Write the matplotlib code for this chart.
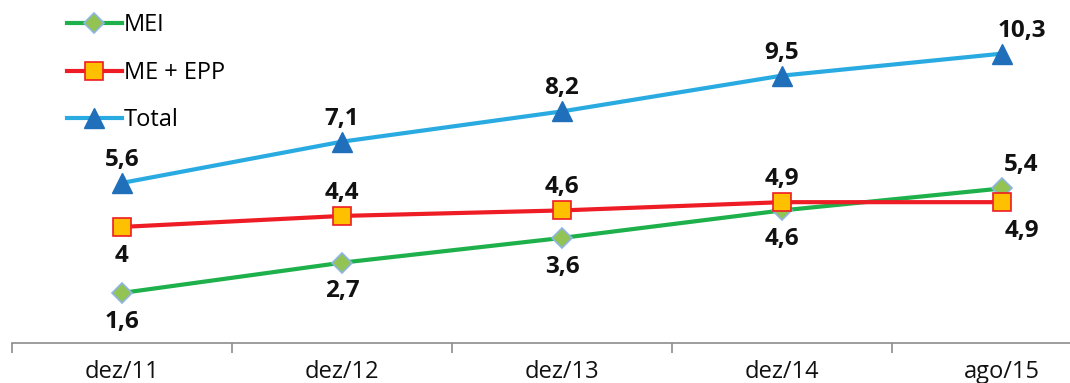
import numpy as np
import matplotlib.pyplot as plt

categories = ['dez/11', 'dez/12', 'dez/13', 'dez/14', 'ago/15']
mei = [1.6, 2.7, 3.6, 4.6, 5.4]
me_epp = [4.0, 4.4, 4.6, 4.9, 4.9]
total = [5.6, 7.1, 8.2, 9.5, 10.3]

# label placement: 1 = above, -1 = below
mei_pos = [-1, -1, -1, -1, 1]
me_epp_pos = [-1, 1, 1, 1, -1]
total_pos = [1, 1, 1, 1, 1]

plt.rcParams['font.family'] = ['Open Sans', 'DejaVu Sans']

fig = plt.figure(figsize=(10.7, 3.83), dpi=100)
ax = fig.add_axes([12 / 1070, 40 / 383, 1100 / 1070, 343 / 383])

x = np.arange(len(categories))

ax.plot(x, mei, color='#1DB04B', lw=3, marker='D', ms=10,
        mfc='#92C353', mec='#8DB4E2', mew=1.2, label='MEI', zorder=3)
ax.plot(x, me_epp, color='#EE1C25', lw=3, marker='s', ms=13,
        mfc='#FFC000', mec='#EE1C25', mew=1.2, label='ME + EPP', zorder=3)
ax.plot(x, total, color='#29ABE2', lw=3, marker='^', ms=14,
        mfc='#1F6FBA', mec='#1F6FBA', label='Total', zorder=3)

def add_labels(vals, pos):
    for i, (v, p) in enumerate(zip(vals, pos)):
        dx = 14 if i == len(vals) - 1 else 0
        dy = 8 if p > 0 else -12
        txt = f'{v:g}'.replace('.', ',')
        ax.annotate(txt, (i, v), xytext=(dx, dy), textcoords='offset points',
                    ha='center', va='bottom' if p > 0 else 'top',
                    fontsize=17.5, fontweight='bold', color='#111111')

add_labels(mei, mei_pos)
add_labels(me_epp, me_epp_pos)
add_labels(total, total_pos)

ax.set_xlim(-0.5, len(categories) - 0.5)
ax.set_ylim(-0.22, 12.25)

for s in ['top', 'right', 'left']:
    ax.spines[s].set_visible(False)
ax.spines['bottom'].set_color('#8C8C8C')
ax.spines['bottom'].set_linewidth(1.2)

ax.set_yticks([])
ax.set_xticks(x)
ax.set_xticklabels(categories, fontsize=17, color='#111111')
ax.tick_params(axis='x', which='major', length=0, pad=12)
ax.set_xticks(np.arange(-0.5, len(categories)), minor=True)
ax.tick_params(axis='x', which='minor', length=7, color='#8C8C8C', width=1.2)

ax.legend(loc='upper left', bbox_to_anchor=(46 / 1070, 1.021), bbox_transform=fig.transFigure,
          frameon=False, fontsize=17, handlelength=2.3, handletextpad=0.1,
          labelspacing=1.0)

fig.savefig('out.png', dpi=100)
